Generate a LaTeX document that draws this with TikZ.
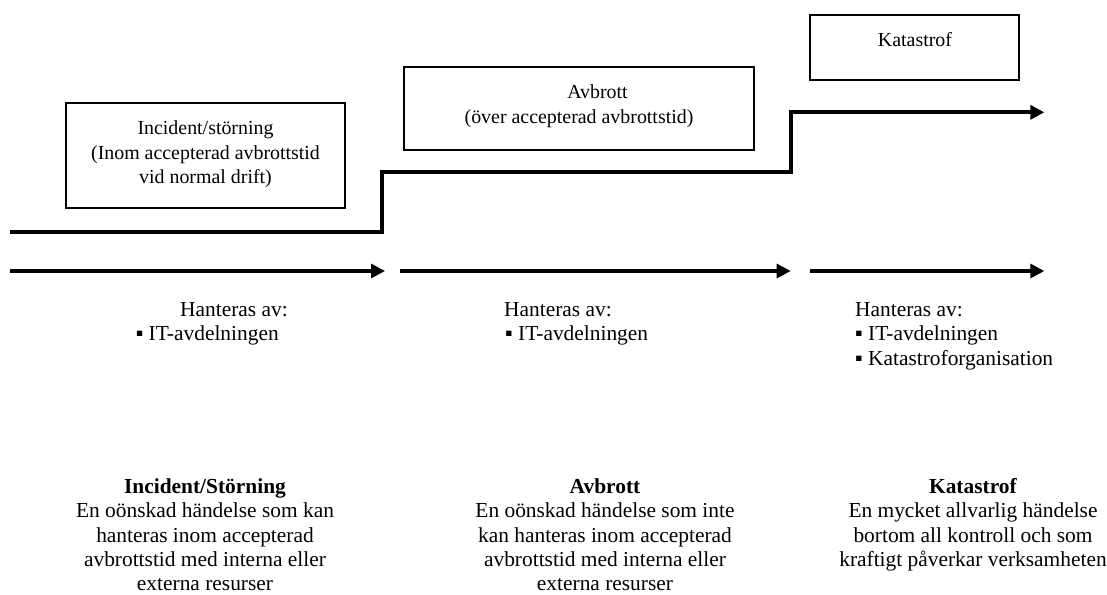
\documentclass[tikz,border=0pt]{standalone}
\usepackage{fontspec}
\setmainfont{Liberation Serif}
\usetikzlibrary{arrows.meta}
\begin{document}
\begin{tikzpicture}[x=1pt,y=-1pt,
  boxtxt/.style={inner sep=0pt, font=\fontsize{19.9}{24.7}\selectfont, align=center},
  txt/.style={inner sep=0pt, font=\fontsize{21.4}{24.3}\selectfont, align=center},
  frame/.style={draw, line width=1.2pt, inner sep=0pt},
  stepline/.style={line width=4pt, -{Triangle[length=14pt,width=14pt]}},
  flow/.style={line width=3.2pt, -{Triangle[length=14pt,width=14pt]}}]
\useasboundingbox (0,0) rectangle (1107,594);
% boxes
\node[frame, minimum width=279pt, minimum height=105pt] (box1) at (205.5,155.5) {};
\node[frame, minimum width=350pt, minimum height=83pt] (box2) at (579,108.5) {};
\node[frame, minimum width=209pt, minimum height=65pt] (box3) at (914.5,47.5) {};
\node[boxtxt, anchor=north] (t1) at (205.5,120.4) {Incident/störning\\(Inom accepterad avbrottstid\\vid normal drift)};
\node[boxtxt, anchor=base] (t2a) at (597.5,98.5) {Avbrott};
\node[boxtxt, anchor=base] (t2b) at (579,123) {(över accepterad avbrottstid)};
\node[boxtxt, anchor=base] (t3) at (915,46) {Katastrof};
% step line
\coordinate (s0) at (10.3,232);
\coordinate (s1) at (382,232);
\coordinate (s2) at (382,171.7);
\coordinate (s3) at (791.3,171.7);
\coordinate (s4) at (791.3,112.3);
\coordinate (s5) at (1044.3,112.3);
\draw[stepline] (s0) -- (s1) -- (s2) -- (s3) -- (s4) -- (s5);
% flow arrows
\coordinate (a0) at (10.3,271);
\coordinate (a1) at (385,271);
\coordinate (b0) at (400,271);
\coordinate (b1) at (790.7,271);
\coordinate (c0) at (810,271);
\coordinate (c1) at (1044.3,271);
\draw[flow] (a0) -- (a1);
\draw[flow] (b0) -- (b1);
\draw[flow] (c0) -- (c1);
% handled by
\node[txt, anchor=base west] (h1) at (180,316) {Hanteras av:};
\node[txt, anchor=base west] (l1) at (135.6,340.5) {▪ IT-avdelningen};
\node[txt, anchor=base west] (h2) at (504,316) {Hanteras av:};
\node[txt, anchor=base west] (l2) at (505,340.5) {▪ IT-avdelningen};
\node[txt, anchor=base west] (h3) at (855,316) {Hanteras av:};
\node[txt, anchor=base west] (l3a) at (855,340.5) {▪ IT-avdelningen};
\node[txt, anchor=base west] (l3b) at (855,365) {▪ Katastroforganisation};
% definitions
\node[txt, anchor=north] (d1) at (205,478.4) {\textbf{Incident/Störning}\\En oönskad händelse som kan\\hanteras inom accepterad\\avbrottstid med interna eller\\externa resurser};
\node[txt, anchor=north] (d2) at (605,478.4) {\textbf{Avbrott}\\En oönskad händelse som inte\\kan hanteras inom accepterad\\avbrottstid med interna eller\\externa resurser};
\node[txt, anchor=north] (d3) at (973,478.4) {\textbf{Katastrof}\\En mycket allvarlig händelse\\bortom all kontroll och som\\kraftigt påverkar verksamheten};
\end{tikzpicture}
\end{document}
